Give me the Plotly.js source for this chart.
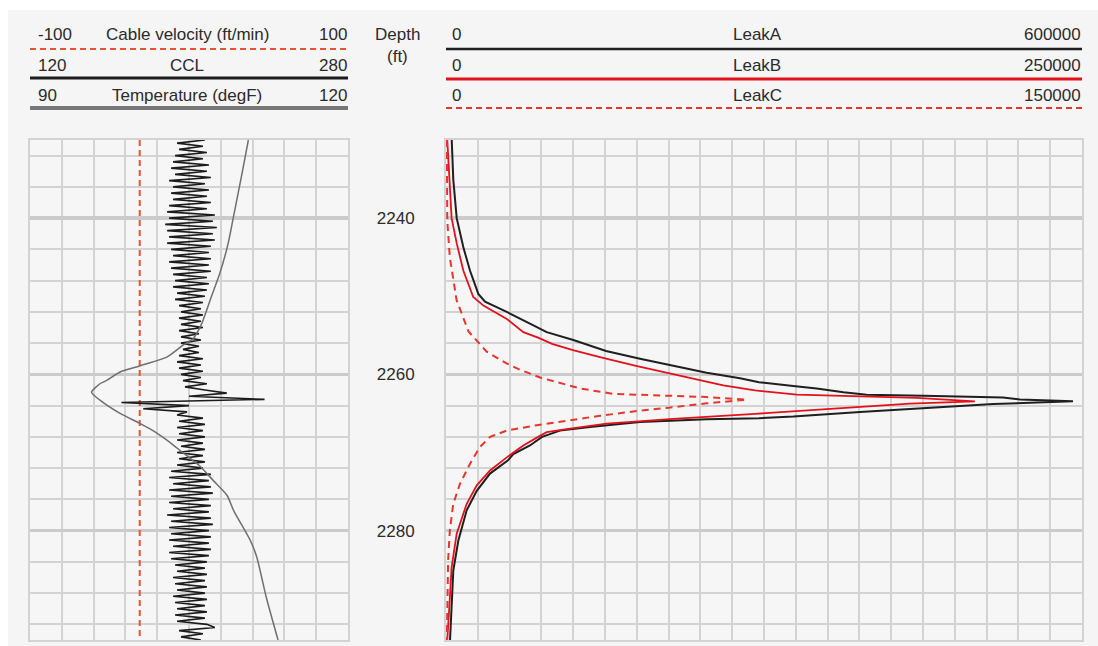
<!DOCTYPE html>
<html>
<head>
<meta charset="utf-8">
<script src="https://cdn.plot.ly/plotly-3.0.1.min.js"></script>
<style>
html,body{margin:0;padding:0;background:#ffffff;}
#chart{width:1098px;height:646px;}
</style>
</head>
<body>
<div id="chart"></div>
<script>
// ---------------- DATA ----------------
// Cable velocity (ft/min) vs depth (ft)
const cableDepth = [2230, 2262, 2294];
const cableVelocity = [-31, -31, -31];

// CCL, sampled every 0.4 ft starting at 2230 ft
const cclDepthStart = 2230;
const cclDepthStep = 0.4;
const cclValues = [
  208,194,207,195,209,193,207,
  192,210,191,209,193,211,190,208,192,210,191,209,192,211,190,209,
  189,213,190,212,188,214,189,212,190,213,189,
  211,191,210,192,211,190,210,191,211,192,
  209,193,210,192,209,194,208,193,
  207,195,206,196,207,195,206,196,207,195,
  205,196,206,196,205,197,205,
  195,207,194,206,195,207,196,206,
  197,209,
  198,208,219,200,238,166,200,177,199,194,
  207,195,208,194,207,195,208,194,207,196,208,194,207,195,208,194,207,
  191,211,190,210,192,211,190,212,191,210,190,211,192,210,189,211,191,212,190,210,191,211,190,210,192,211,190,210,191,
  209,193,208,194,209,192,208,193,209,194,208,192,209,193,208,194,209,193,208,194,209,
  213,
  195,207,196,206
];

// Temperature (degF)
const tempDepth = [2230.0, 2234.3, 2239.8, 2243.2, 2247.1, 2250.1, 2253.5, 2255.4, 2256.3, 2257.8,
  2258.9, 2259.7, 2260.8, 2261.2, 2262.3, 2263.3, 2265.0, 2266.3, 2267.2, 2268.7,
  2270.0, 2271.7, 2273.6, 2275.5, 2277.4, 2281.3, 2283.4, 2288.6, 2294.0];
const tempValues = [110.6, 110.0, 109.2, 108.7, 107.9, 107.1, 106.2, 105.4, 104.4, 102.9,
  100.4, 98.5, 97.2, 96.6, 95.8, 96.6, 98.5, 100.4, 101.6, 103.2,
  104.4, 106.0, 107.3, 108.6, 109.2, 110.8, 111.4, 112.3, 113.4];

// LeakA
const leakADepth = [2230, 2235.1, 2240, 2243.7, 2246.7, 2249.7, 2250.7, 2252.0, 2253.5, 2254.6,
  2255.6, 2257.0, 2258.0, 2258.9, 2259.8, 2260.5, 2261.0, 2261.5, 2261.8, 2262.3,
  2262.6, 2262.75, 2262.95, 2263.2, 2263.45, 2263.8, 2264.3, 2264.8, 2265.4, 2265.6,
  2265.75, 2266.1, 2266.75, 2267.2, 2268.0, 2269.1, 2270.2, 2271.0, 2272.7, 2274.9,
  2277.4, 2281.3, 2285.1, 2289.8, 2294];
const leakAValues = [5400, 6900, 10100, 16300, 22600, 30500, 36800, 57300, 79200, 95000,
  120100, 151000, 183000, 214400, 245900, 277400, 295300, 327600, 349700, 375000,
  396900, 450300, 525500, 541500, 591500, 516300, 450300, 390600, 327600, 295300,
  245900, 183000, 135800, 107500, 90600, 79200, 63500, 58500, 41500, 29000,
  19500, 11600, 6900, 5400, 3800];

// LeakB
const leakBDepth = [2230, 2235.6, 2240, 2243.2, 2246.7, 2250.1, 2251.2, 2252.9, 2254.6, 2255.3,
  2256.1, 2256.9, 2257.8, 2258.9, 2260.2, 2261.4, 2262.05, 2262.6, 2263.0, 2263.46,
  2263.75, 2264.2, 2264.7, 2265.05, 2265.7, 2266.3, 2267.0, 2267.4, 2268.0, 2269.1,
  2270.5, 2272.3, 2274.2, 2276.6, 2280.4, 2284.7, 2289.8, 2294];
const leakBValues = [500, 1600, 2200, 4200, 6800, 10700, 14700, 23900, 30400, 36200,
  41700, 49900, 60500, 74700, 92400, 109000, 121500, 137900, 185000, 207900,
  182400, 161400, 141800, 121500, 89300, 63200, 47400, 39600, 36200, 30400,
  24400, 17300, 12100, 8100, 4200, 2200, 1300, 500];

// LeakC
const leakCDepth = [2230, 2240.3, 2245, 2250.5, 2254.5, 2257.1, 2258.6, 2259.3, 2260.4, 2261.8,
  2262.5, 2262.7, 2262.9, 2263.25, 2263.7, 2264.3, 2264.7, 2265.3, 2265.9, 2266.5,
  2267.2, 2268.0, 2269.3, 2271.4, 2274.0, 2276.6, 2280, 2283.8, 2294];
const leakCValues = [200, 300, 900, 2500, 5300, 9600, 14300, 17000, 22200, 31600,
  39500, 49700, 61500, 70900, 61500, 52000, 45000, 36300, 28500, 21400,
  14300, 10400, 8000, 5700, 3300, 1700, 900, 500, 200];

// Header scale labels
const leftHeader = [
  {min: '-100', name: 'Cable velocity (ft/min)', max: '100'},
  {min: '120', name: 'CCL', max: '280'},
  {min: '90', name: 'Temperature (degF)', max: '120'}
];
const rightHeader = [
  {min: '0', name: 'LeakA', max: '600000'},
  {min: '0', name: 'LeakB', max: '250000'},
  {min: '0', name: 'LeakC', max: '150000'}
];
const depthRange = [2294, 2230];

// ---------------- STYLE / LAYOUT ----------------
const W = 1098, H = 646;
const px = x => x / W;
const py = y => 1 - y / H;

const GRID = '#d3d3d3';
const GRID_MAJOR = '#cbcbcb';
const FONT = 'Liberation Sans, Arial, Helvetica, sans-serif';
const TXT = '#2b2b2b';
const VEL_COLOR = '#ec5232';
const RED = '#e3111b';
const LEAKC_COLOR = '#e8352c';

const L0 = 30, L1 = 348, R0 = 446, R1 = 1082, T0 = 140, T1 = 640;

const traces = [
  {x: cableVelocity, y: cableDepth, xaxis: 'x', yaxis: 'y', mode: 'lines',
   line: {color: VEL_COLOR, width: 2, dash: '6px,4px'}},
  {x: cclValues, y0: cclDepthStart, dy: cclDepthStep, xaxis: 'x2', yaxis: 'y', mode: 'lines',
   line: {color: '#1c1c1c', width: 1.6}},
  {x: tempValues, y: tempDepth, xaxis: 'x3', yaxis: 'y', mode: 'lines',
   line: {color: '#6f6f6f', width: 1.5, shape: 'spline', smoothing: 0.6}},
  {x: leakCValues, y: leakCDepth, xaxis: 'x6', yaxis: 'y2', mode: 'lines',
   line: {color: LEAKC_COLOR, width: 2, dash: '7px,5px'}},
  {x: leakAValues, y: leakADepth, xaxis: 'x4', yaxis: 'y2', mode: 'lines',
   line: {color: '#1f1f1f', width: 2}},
  {x: leakBValues, y: leakBDepth, xaxis: 'x5', yaxis: 'y2', mode: 'lines',
   line: {color: RED, width: 1.8}}
];

const frame = {showline: true, mirror: true, linecolor: GRID, linewidth: 2, zeroline: false,
  ticks: '', fixedrange: true};

const yBase = Object.assign({}, frame, {
  domain: [py(T1), py(T0)], range: depthRange, autorange: false,
  tick0: 2240, dtick: 20, showgrid: true, gridcolor: GRID_MAJOR, gridwidth: 3.5,
  minor: {tick0: 2232, dtick: 4, showgrid: true, gridcolor: GRID, gridwidth: 2, ticks: ''}
});

const layout = {
  width: W, height: H,
  margin: {l: 0, r: 0, t: 0, b: 0, pad: 0},
  paper_bgcolor: '#f5f5f5',
  plot_bgcolor: '#f6f6f6',
  showlegend: false,
  hovermode: false,
  font: {family: FONT, size: 17, color: TXT},
  xaxis: Object.assign({}, frame, {domain: [px(L0), px(L1)], range: [-100, 100], tick0: -100, dtick: 20,
    showgrid: true, gridcolor: GRID, gridwidth: 2, showticklabels: false, anchor: 'y'}),
  xaxis2: {overlaying: 'x', anchor: 'y', range: [120, 280], visible: false, fixedrange: true},
  xaxis3: {overlaying: 'x', anchor: 'y', range: [90, 120], visible: false, fixedrange: true},
  yaxis: Object.assign({}, yBase, {anchor: 'x', showticklabels: false}),
  xaxis4: Object.assign({}, frame, {domain: [px(R0), px(R1)], range: [0, 600000], tick0: 0, dtick: 30000,
    showgrid: true, gridcolor: GRID, gridwidth: 2, showticklabels: false, anchor: 'y2'}),
  xaxis5: {overlaying: 'x4', anchor: 'y2', range: [0, 250000], visible: false, fixedrange: true},
  xaxis6: {overlaying: 'x4', anchor: 'y2', range: [0, 150000], visible: false, fixedrange: true},
  yaxis2: Object.assign({}, yBase, {anchor: 'x4', showticklabels: true, side: 'left',
    ticklabelstandoff: 26, tickfont: {family: FONT, size: 17, color: TXT}}),
  shapes: [],
  annotations: []
};

// white strips around the grey panel
layout.shapes.push({type: 'rect', xref: 'paper', yref: 'paper', x0: 0, x1: 1, y0: py(10), y1: 1,
  fillcolor: '#ffffff', line: {width: 0}, layer: 'below'});
layout.shapes.push({type: 'rect', xref: 'paper', yref: 'paper', x0: 0, x1: px(8), y0: 0, y1: 1,
  fillcolor: '#ffffff', line: {width: 0}, layer: 'below'});

// header rows
const rowText = [35, 65, 95];
const leftLines = [
  {y: 49, color: VEL_COLOR, width: 2, dash: '6px,4px'},
  {y: 78, color: '#1c1c1c', width: 3, dash: 'solid'},
  {y: 108, color: '#777777', width: 4, dash: 'solid'}
];
const rightLines = [
  {y: 49, color: '#1f1f1f', width: 2.5, dash: 'solid'},
  {y: 79, color: RED, width: 3, dash: 'solid'},
  {y: 108, color: LEAKC_COLOR, width: 2, dash: '6px,4px'}
];

function addHeader(rows, lines, x0, x1, minOffset, nameX) {
  rows.forEach((r, i) => {
    const ty = py(rowText[i]);
    layout.annotations.push({xref: 'paper', yref: 'paper', x: px(x0 + minOffset), y: ty, text: r.min,
      showarrow: false, xanchor: 'left', yanchor: 'middle'});
    layout.annotations.push({xref: 'paper', yref: 'paper', x: px(nameX), y: ty, text: r.name,
      showarrow: false, xanchor: 'center', yanchor: 'middle'});
    layout.annotations.push({xref: 'paper', yref: 'paper', x: px(x1 + 1), y: ty, text: r.max,
      showarrow: false, xanchor: 'right', yanchor: 'middle'});
    const ln = lines[i];
    layout.shapes.push({type: 'line', xref: 'paper', yref: 'paper', x0: px(x0), x1: px(x1),
      y0: py(ln.y), y1: py(ln.y), line: {color: ln.color, width: ln.width, dash: ln.dash}});
  });
}
addHeader(leftHeader, leftLines, L0, L1, 6, 187);
addHeader(rightHeader, rightLines, R0, R1, 4, 757);

// Depth header
layout.annotations.push({xref: 'paper', yref: 'paper', x: px(397), y: py(35), text: 'Depth',
  showarrow: false, xanchor: 'center', yanchor: 'middle'});
layout.annotations.push({xref: 'paper', yref: 'paper', x: px(397), y: py(56), text: '(ft)',
  showarrow: false, xanchor: 'center', yanchor: 'middle'});

Plotly.newPlot('chart', traces, layout, {displayModeBar: false, staticPlot: true});
</script>
</body>
</html>
